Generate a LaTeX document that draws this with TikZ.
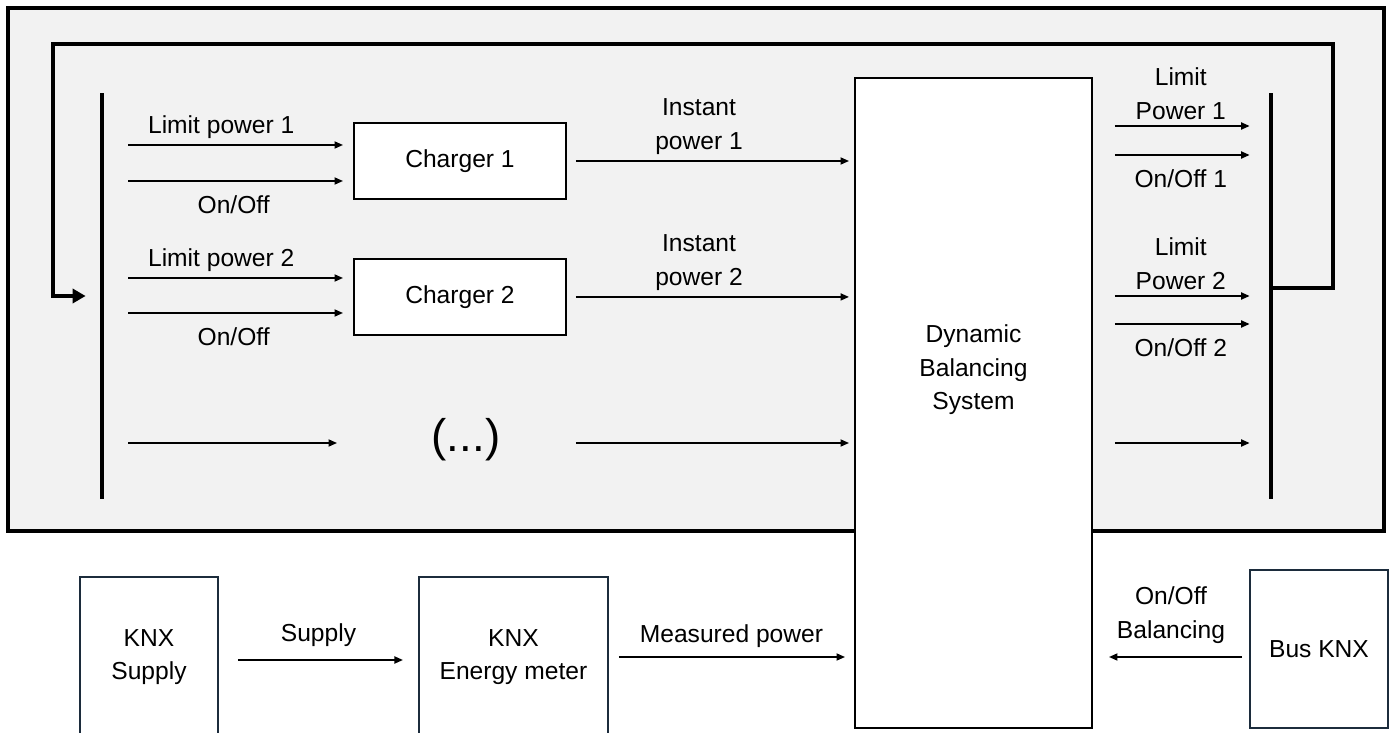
\documentclass[tikz,border=0pt]{standalone}
\usepackage{fontspec}
\setmainfont{Liberation Sans}
\usepackage{xcolor}
\usepackage{tikz}
\usetikzlibrary{positioning, arrows.meta}
\definecolor{panelgray}{RGB}{242,242,242}
\definecolor{knxnavy}{RGB}{28,44,60}
\tikzstyle{blk}=[%
      rectangle, draw=black, line width=1.1pt, fill=white,
      minimum height=15.2mm, minimum width=42.4mm, inner sep=6pt, align=center
]
\tikzstyle{knx}=[%
      rectangle, draw=knxnavy, line width=1.1pt, fill=white,
      minimum height=32mm, minimum width=27.6mm, inner sep=6pt, align=center
]
\tikzstyle{bar}=[%
      rectangle, fill=black, draw=none, inner sep=0pt,
      minimum width=0.8mm, minimum height=81.2mm
]
\tikzstyle{sig}=[%
      line width=1pt, -{Triangle[length=1.7mm,width=1.4mm]}
]
\tikzstyle{fb}=[%
      line width=2.3pt, -{Triangle[length=2.6mm,width=2.8mm]}
]

\begin{document}
\begin{tikzpicture}[x=0.2mm, y=-0.2mm, font=\fontsize{14pt}{19pt}\selectfont,
    node distance=11.6mm, align=center
  ]
    \useasboundingbox (0,0) rectangle (1391,733);
    % panel
    \draw[line width=2.3pt, fill=panelgray] (8,8) rectangle (1384,531);

    \node[bar]  (barL) at (102,296) {};
    \node[bar]  (barR) at (1271,296) {};
    \node[blk]  (ch1)  at (460,161) {Charger 1};
    \node[blk]  (ch2)  [below = of ch1] {Charger 2};
    \node[inner sep=0pt, font=\fontsize{26pt}{30pt}\selectfont] (dots) at (466,440) {(...)};
    \node[blk, minimum width=47.4mm, minimum height=130mm,
          label={[align=center, yshift=6.6mm]center:Dynamic\\Balancing\\System}]
          (dbs) at (973.5,403) {};

    \node[knx]  (sup)  at (149,657) {KNX\\Supply};
    \node[knx, minimum width=37.8mm] (meter) [right = 39.8mm of sup] {KNX\\Energy meter};
    \node[knx, minimum height=31.6mm] (bus) at (1319,649) {Bus KNX};

    % rows
    \coordinate (r1a) at (0,145);
    \coordinate (r1b) at (0,181);
    \coordinate (r2a) at (0,278);
    \coordinate (r2b) at (0,313);
    \coordinate (r3)  at (0,443);
    \coordinate (q1a) at (0,126);
    \coordinate (q1b) at (0,155);
    \coordinate (q2a) at (0,296);
    \coordinate (q2b) at (0,324);
    \coordinate (mp)  at (0,657);

    % feedback loop
    \coordinate (fbTR) at (1333,44);
    \coordinate (fbTL) at (53,44);
    \coordinate (fbin) at (53,296);
    \draw[fb, shorten >=2.8mm] (barR.east |- 0,288) -| (fbTR) -- (fbTL) |- (barL.west |- fbin);

    % charger inputs
    \path[sig, shorten <=4.8mm, shorten >=2mm]
          (barL.east |- r1a) edge node[above, pos=0.47] {Limit power 1} (ch1.west |- r1a)
          (barL.east |- r1b) edge node[below=1.6mm, pos=0.52] {On/Off} (ch1.west |- r1b)
          (barL.east |- r2a) edge node[above, pos=0.47] {Limit power 2} (ch2.west |- r2a)
          (barL.east |- r2b) edge node[below=1.6mm, pos=0.52] {On/Off} (ch2.west |- r2b);
    \draw[sig, shorten <=4.8mm, shorten >=3.2mm] (barL.east |- r3) -- (ch1.west |- r3);

    % charger outputs
    \path[sig, shorten <=1.8mm, shorten >=1mm]
          (ch1.east) edge node[above, pos=0.46] {Instant\\power 1} (dbs.west |- ch1.east)
          (ch2.east) edge node[above, pos=0.46] {Instant\\power 2} (dbs.west |- ch2.east)
          (ch1.east |- r3) edge (dbs.west |- r3);

    % balancing outputs
    \path[sig, shorten <=4.4mm, shorten >=3.8mm]
          (dbs.east |- q1a) edge node[above] {Limit\\Power 1} (barR.west |- q1a)
          (dbs.east |- q1b) edge node[below=1.6mm] {On/Off 1} (barR.west |- q1b)
          (dbs.east |- q2a) edge node[above] {Limit\\Power 2} (barR.west |- q2a)
          (dbs.east |- q2b) edge node[below=1.6mm] {On/Off 2} (barR.west |- q2b)
          (dbs.east |- r3) edge (barR.west |- r3);

    % KNX side
    \path[sig]
          (sup.east |- 0,660) edge[shorten <=3.8mm, shorten >=3mm] node[above=1.4mm] {Supply} (meter.west |- 0,660)
          (meter.east |- mp) edge[shorten <=2mm, shorten >=1.8mm] node[above=0.6mm] {Measured power} (dbs.west |- mp)
          (bus.west |- mp) edge[shorten <=1.4mm, shorten >=3.2mm] node[above=1.4mm] {On/Off\\Balancing} (dbs.east |- mp);
\end{tikzpicture}
\end{document}
